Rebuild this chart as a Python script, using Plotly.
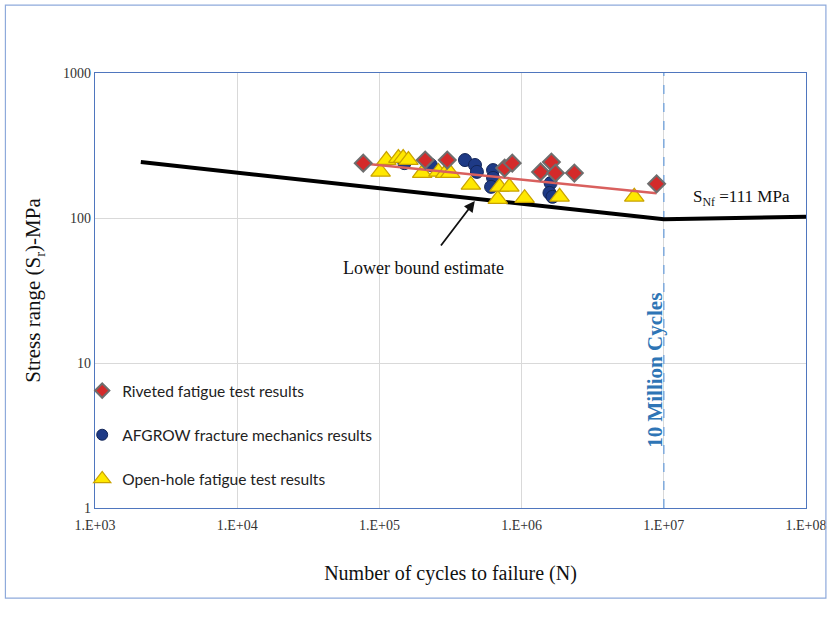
import plotly.graph_objects as go

# ---------------- data ----------------
riveted_N = [7.7e4, 2.1e5, 3.0e5, 7.6e5, 8.6e5, 1.36e6, 1.62e6, 1.73e6, 2.35e6, 8.9e6]
riveted_S = [239, 251, 251, 221, 239, 208, 243, 204, 204, 172]

afgrow_N = [1.5e5, 2.3e5, 4.0e5, 4.7e5, 4.85e5, 6.3e5, 6.3e5, 6.1e5, 1.6e6, 1.57e6, 1.65e6]
afgrow_S = [239, 232, 251, 232, 208, 214, 189, 164, 174, 149, 140]

openhole_N = [1.02e5, 1.12e5, 1.36e5, 1.47e5, 1.6e5, 2.0e5, 2.6e5, 2.9e5, 3.15e5,
              4.4e5, 6.8e5, 7.0e5, 8.2e5, 1.05e6, 1.85e6, 6.2e6]
openhole_S = [208, 251, 259, 259, 251, 204, 208, 204, 204,
              169, 135, 164, 164, 137, 140, 140]

trend_N = [7.7e4, 8.9e6]
trend_S = [238, 148]

lower_N = [2.1e3, 1e7, 1e8]
lower_S = [243, 98, 102]

limit_N = [1e7, 1e7]
limit_S = [1, 1000]

x_tickvals = [1e3, 1e4, 1e5, 1e6, 1e7, 1e8]
x_ticktext = ["1.E+03", "1.E+04", "1.E+05", "1.E+06", "1.E+07", "1.E+08"]
y_tickvals = [1, 10, 100, 1000]
y_ticktext = ["1", "10", "100", "1000"]

series_names = ["Riveted fatigue test results",
                "AFGROW fracture mechanics results",
                "Open-hole fatigue test results"]

# ---------------- styles ----------------
SERIF = "Liberation Serif, Times New Roman, serif"
SANS = "Lato, Carlito, Calibri, sans-serif"

diamond_m = dict(symbol="diamond", size=13, color="#D42A2A",
                 line=dict(color="#6E6E6E", width=2))
circle_m = dict(symbol="circle", size=13, color="#1E3A86",
                line=dict(color="#132658", width=1))
tri_m = dict(symbol="triangle-up", size=17, color="#FFE800",
             line=dict(color="#C9A200", width=1.2))

fig = go.Figure()

# vertical 10 million cycles line
fig.add_trace(go.Scatter(x=limit_N, y=limit_S, mode="lines",
                         line=dict(color="#7FAADC", width=1.5, dash="dash"),
                         showlegend=False, hoverinfo="skip"))
# lower bound line
fig.add_trace(go.Scatter(x=lower_N, y=lower_S, mode="lines",
                         line=dict(color="black", width=4),
                         showlegend=False, hoverinfo="skip"))
# data
fig.add_trace(go.Scatter(x=afgrow_N, y=afgrow_S, mode="markers", marker=circle_m,
                         showlegend=False))
fig.add_trace(go.Scatter(x=openhole_N, y=openhole_S, mode="markers", marker=tri_m,
                         showlegend=False))
fig.add_trace(go.Scatter(x=trend_N, y=trend_S, mode="lines",
                         line=dict(color="#D9605E", width=2.5),
                         showlegend=False, hoverinfo="skip"))
fig.add_trace(go.Scatter(x=riveted_N, y=riveted_S, mode="markers", marker=diamond_m,
                         showlegend=False))

# legend entries
for i, (nm, mk) in enumerate(zip(series_names, [diamond_m, circle_m, tri_m])):
    m = dict(mk)
    m["size"] = mk["size"] - 2
    fig.add_trace(go.Scatter(x=[None], y=[None], mode="markers", marker=m,
                             name=nm, legendgroup=f"g{i}"))

fig.update_layout(
    width=838, height=628,
    margin=dict(l=95, r=28, t=73, b=120),
    paper_bgcolor="white", plot_bgcolor="white",
    showlegend=True,
    legend=dict(x=-0.018, y=0.308, xanchor="left", yanchor="top",
                bgcolor="rgba(0,0,0,0)", font=dict(family=SANS, size=15.5, color="#222"),
                tracegroupgap=21, itemwidth=30),
    xaxis=dict(type="log", range=[3, 8], tickvals=x_tickvals, ticktext=x_ticktext,
               showgrid=True, gridcolor="#D9D9D9", gridwidth=1,
               showline=True, linecolor="#4F76BE", linewidth=1.3, mirror=True,
               ticks="", ticklabelstandoff=4,
               tickfont=dict(family=SERIF, size=14, color="#333"),
               title=dict(text="Number of cycles to failure (N)",
                          font=dict(family=SERIF, size=20, color="#111"), standoff=34),
               zeroline=False),
    yaxis=dict(type="log", range=[0, 3], tickvals=y_tickvals, ticktext=y_ticktext,
               showgrid=True, gridcolor="#D9D9D9", gridwidth=1,
               showline=True, linecolor="#4F76BE", linewidth=1.3, mirror=True,
               ticks="", tickfont=dict(family=SERIF, size=14, color="#333"),
               title=dict(text="Stress range (S<sub>r</sub>)-MPa",
                          font=dict(family=SERIF, size=21, color="#111"), standoff=16),
               zeroline=False),
    shapes=[dict(type="rect", xref="paper", yref="paper",
                 x0=-0.126, x1=1.028, y0=-0.207, y1=1.156,
                 line=dict(color="#8EAADB", width=1.2), fillcolor="rgba(0,0,0,0)")],
    annotations=[
        dict(x=5.308, y=1.655, xref="x", yref="y", text="Lower bound estimate",
             showarrow=False, font=dict(family=SERIF, size=18, color="#111")),
        dict(x=5.671, y=2.117, xref="x", yref="y", text="",
             showarrow=True, arrowhead=2, arrowsize=1.2, arrowwidth=1.8,
             arrowcolor="#111", ax=-35, ay=46),
        dict(x=7.545, y=2.138, xref="x", yref="y",
             text="S<sub>Nf</sub> =111 MPa",
             showarrow=False, font=dict(family=SERIF, size=17, color="#111")),
        dict(x=6.937, y=0.952, xref="x", yref="y", text="<b>10 Million Cycles</b>",
             textangle=-90, showarrow=False,
             font=dict(family=SERIF, size=21, color="#2E75B6")),
    ],
)

fig.write_html("out.html")
